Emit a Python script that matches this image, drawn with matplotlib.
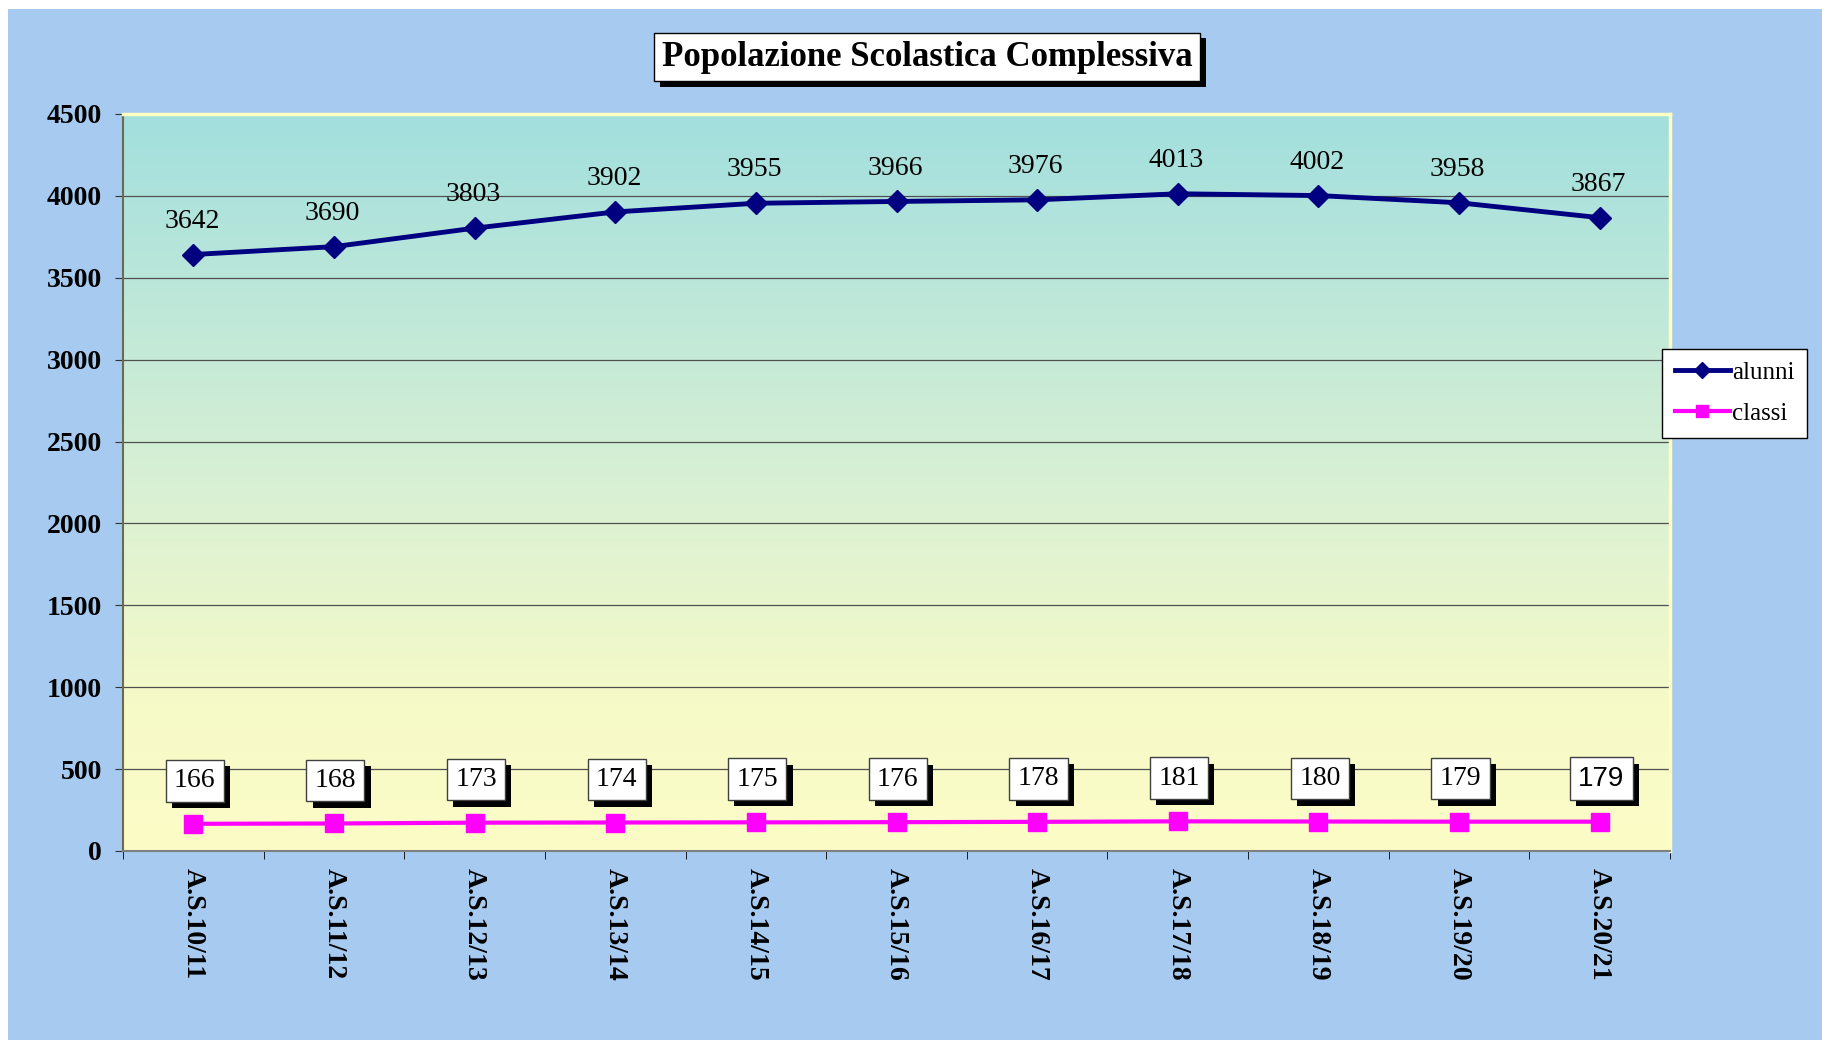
import numpy as np
import matplotlib.pyplot as plt
import matplotlib.patheffects as pe
from matplotlib.patches import Rectangle
from matplotlib.colors import LinearSegmentedColormap

# data
years = ['A.S.10/11', 'A.S.11/12', 'A.S.12/13', 'A.S.13/14', 'A.S.14/15', 'A.S.15/16',
         'A.S.16/17', 'A.S.17/18', 'A.S.18/19', 'A.S.19/20', 'A.S.20/21']
alunni = [3642, 3690, 3803, 3902, 3955, 3966, 3976, 4013, 4002, 3958, 3867]
classi = [166, 168, 173, 174, 175, 176, 178, 181, 180, 179, 179]
yticks = [0, 500, 1000, 1500, 2000, 2500, 3000, 3500, 4000, 4500]

plt.rcParams['font.family'] = ['Liberation Serif', 'DejaVu Serif']

W, H = 1822, 1040
fig = plt.figure(figsize=(W / 100, H / 100), dpi=100, facecolor='white')
# light blue chart area (thin white strip left and top like the reference)
fig.add_artist(Rectangle((8 / W, 0), 1, 1 - 9 / H, transform=fig.transFigure,
                         facecolor='#A6CAF0', edgecolor='none', zorder=-10))

ax = fig.add_axes([123 / W, 1 - 851 / H, (1670 - 123) / W, (851 - 114) / H])

# gradient plot area: teal on top, pale yellow at the bottom
cmap = LinearSegmentedColormap.from_list(
    'bg', [(0.0, '#FCFCC6'), (0.2, '#F6FAC8'), (0.5, '#D8F0D4'), (1.0, '#A2DFDE')])
grad = np.linspace(0, 1, 256).reshape(-1, 1)
ax.imshow(grad, extent=[0, 1, 0, 1], transform=ax.transAxes, aspect='auto',
          cmap=cmap, origin='lower', zorder=0)

x = np.arange(len(years))
ax.plot(x, alunni, color='#000080', lw=3.5, marker='D', ms=11, label='alunni', zorder=3)
ax.plot(x, classi, color='#FF00FF', lw=3, marker='s', ms=13, label='classi', zorder=3)

for i, v in enumerate(alunni):
    ax.annotate(str(v), (i, v), xytext=(-1, 24), textcoords='offset points',
                ha='center', va='center', fontsize=20, zorder=4)

for i, v in enumerate(classi):
    fam = 'Liberation Sans' if i == len(classi) - 1 else 'Liberation Serif'
    t = ax.annotate(str(v), (i, v), xytext=(1, 31), textcoords='offset points',
                    ha='center', va='center', fontsize=20, family=fam, zorder=4,
                    bbox=dict(boxstyle='square,pad=0.3', fc='white', ec='#404040', lw=1))
    t.get_bbox_patch().set_path_effects(
        [pe.withSimplePatchShadow(offset=(4.5, -4.5), shadow_rgbFace='black', alpha=1)])

ax.set_xlim(-0.5, len(years) - 0.5)
ax.set_ylim(0, 4500)
ax.set_yticks(yticks)
ax.set_yticklabels([str(t) for t in yticks], fontsize=20, fontweight='bold')
ax.set_xticks(x)
ax.set_xticklabels(years, rotation=270, fontsize=20, fontweight='bold', va='top', ha='center')
ax.set_xticks(np.arange(-0.5, len(years)), minor=True)
ax.tick_params(axis='x', which='major', length=0, pad=12)
ax.tick_params(axis='x', which='minor', length=6, direction='out', color='black')
ax.tick_params(axis='y', length=6, direction='out', color='#333333', pad=9)

ax.set_axisbelow(True)
ax.yaxis.grid(True, color='#505050', lw=0.9)

ax.spines['top'].set_color('#FFFFC0')
ax.spines['right'].set_color('#FFFFC0')
ax.spines['top'].set_linewidth(2.5)
ax.spines['right'].set_linewidth(2.5)
ax.spines['left'].set_color('#6b6b50')
ax.spines['bottom'].set_color('#808080')
ax.spines['left'].set_linewidth(1.5)
ax.spines['bottom'].set_linewidth(1.5)

title = fig.text(927 / W, 1 - 57 / H, 'Popolazione Scolastica Complessiva', ha='center',
                 va='center', fontsize=25, fontweight='bold',
                 bbox=dict(boxstyle='square,pad=0.22', fc='white', ec='black', lw=1))
title.get_bbox_patch().set_path_effects(
    [pe.withSimplePatchShadow(offset=(4, -4), shadow_rgbFace='black', alpha=1)])

leg = fig.legend(loc='upper left', bbox_to_anchor=(1662 / W, 1 - 349 / H), fontsize=18,
                 fancybox=False, edgecolor='black', framealpha=1, handlelength=2.2,
                 handletextpad=0.1, borderpad=0.5, labelspacing=0.75, markerscale=0.7,
                 numpoints=1, borderaxespad=0)
leg.get_frame().set_linewidth(1)

fig.savefig('out.png', dpi=100, facecolor=fig.get_facecolor())
